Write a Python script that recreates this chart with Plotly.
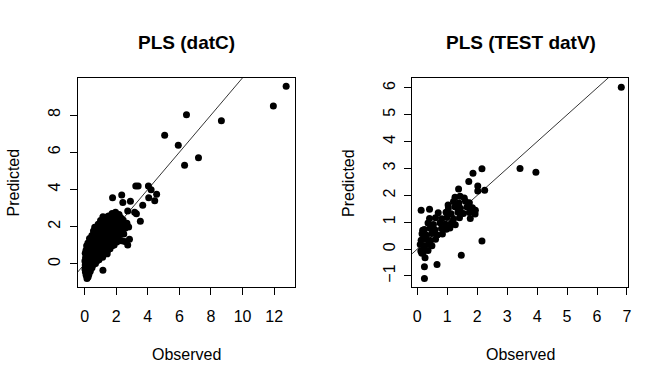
import plotly.graph_objects as go

# ---------------- data: left panel PLS (datC) ----------------
left_obs = [
    0.15, 0.22,
    0.10, 0.27,
    0.05, 0.19, 0.36,
    0.02, 0.17, 0.31, 0.47,
    0.04, 0.21, 0.37, 0.56, 0.69,
    0.02, 0.19, 0.41, 0.58, 0.79, 0.91,
    0.06, 0.23, 0.43, 0.61, 0.83, 0.99, 1.14,
    0.04, 0.26, 0.44, 0.66, 0.86, 1.06, 1.24, 1.43,
    0.09, 0.29, 0.51, 0.69, 0.91, 1.12, 1.31, 1.49, 1.61,
    0.13, 0.31, 0.53, 0.74, 0.96, 1.16, 1.34, 1.56, 1.74, 1.87,
    0.21, 0.43, 0.63, 0.84, 1.04, 1.26, 1.46, 1.64, 1.86, 2.04,
    0.31, 0.49, 0.73, 0.94, 1.16, 1.36, 1.54, 1.76, 1.94, 2.13,
    0.46, 0.67, 0.91, 1.09, 1.31, 1.49, 1.71, 1.89, 2.08, 2.26,
    0.56, 0.79, 0.99, 1.21, 1.39, 1.61, 1.79, 2.01, 2.19, 2.36,
    0.64, 0.89, 1.11, 1.29, 1.51, 1.69, 1.91, 2.09, 2.31, 2.56, 2.79,
    0.86, 1.04, 1.26, 1.44, 1.66, 1.84, 2.06, 2.24, 2.49, 2.68,
    1.01, 1.19, 1.42, 1.58, 1.81, 1.99, 2.21, 2.44,
    1.16, 1.41, 1.52, 1.71, 1.92, 2.11, 2.29,
    1.74, 1.96, 2.18,
    1.77, 2.35, 2.42, 2.90, 2.73, 3.17, 3.28, 3.53, 3.68, 4.06, 4.44, 4.56,
    4.21, 4.04, 3.24, 3.39, 2.33, 2.54, 2.84, 2.73, 2.48, 1.16,
    5.07, 5.93, 6.33, 6.45, 7.21, 8.66, 11.95, 12.76,
]
left_pred = [
    -0.78, -0.70,
    -0.61, -0.57,
    -0.44, -0.49, -0.40,
    -0.27, -0.22, -0.29, -0.20,
    -0.06, -0.01, -0.09, -0.03, 0.02,
    0.16, 0.12, 0.19, 0.11, 0.17, 0.22,
    0.33, 0.38, 0.31, 0.37, 0.32, 0.41, 0.36,
    0.57, 0.52, 0.58, 0.51, 0.56, 0.53, 0.59, 0.54,
    0.74, 0.78, 0.71, 0.77, 0.73, 0.79, 0.72, 0.76, 0.81,
    0.97, 0.92, 0.98, 0.93, 0.96, 0.91, 0.99, 0.94, 0.97, 1.02,
    1.13, 1.18, 1.12, 1.17, 1.14, 1.19, 1.11, 1.16, 1.13, 1.18,
    1.36, 1.32, 1.38, 1.33, 1.37, 1.31, 1.39, 1.34, 1.36, 1.32,
    1.53, 1.58, 1.52, 1.57, 1.54, 1.59, 1.51, 1.56, 1.53, 1.58,
    1.77, 1.72, 1.78, 1.73, 1.76, 1.71, 1.79, 1.74, 1.77, 1.72,
    1.97, 1.92, 1.98, 1.93, 1.96, 1.91, 1.99, 1.94, 1.97, 1.92, 1.98,
    2.13, 2.18, 2.12, 2.17, 2.14, 2.19, 2.11, 2.16, 2.13, 2.18,
    2.33, 2.38, 2.32, 2.37, 2.34, 2.39, 2.31, 2.36,
    2.54, 2.52, 2.58, 2.51, 2.57, 2.53, 2.48,
    2.71, 2.78, 2.66,
    3.55, 3.71, 3.30, 3.37, 2.85, 2.78, 2.69, 2.29, 3.15, 3.55, 3.39, 3.75,
    3.98, 4.19, 4.19, 4.19, 1.24, 1.20, 1.33, 1.02, 1.61, -0.34,
    6.92, 6.38, 5.30, 8.01, 5.70, 7.69, 8.49, 9.55,
]

# ---------------- data: right panel PLS (TEST datV) ----------------
right_obs = [
    0.12, 0.24, 0.36,
    0.10, 0.23, 0.37, 0.49,
    0.13, 0.27, 0.44, 0.61,
    0.16, 0.31, 0.49, 0.67, 0.84,
    0.24, 0.43, 0.59, 0.81, 0.97, 1.09,
    0.36, 0.54, 0.76, 0.94, 1.14, 1.27,
    0.82, 0.99, 1.21, 1.41,
    0.96, 1.13, 1.36, 1.54, 1.74, 1.93,
    1.04, 1.26, 1.44, 1.66, 1.84,
    1.21, 1.39, 1.61, 1.74,
    1.26, 1.43, 1.57,
    6.81, 3.43, 3.96, 2.16, 1.86, 1.72, 1.38, 2.02, 2.25, 2.02,
    2.16, 1.47, 0.66, 0.24, 0.24, 0.13, 0.41, 0.41, 0.70, 0.61,
    1.94, 1.77, 0.18, 0.15, 0.20, 0.26, 1.03,
]
right_pred = [
    -0.07, -0.02, -0.05,
    0.17, 0.12, 0.18, 0.13,
    0.33, 0.38, 0.32, 0.37,
    0.57, 0.52, 0.58, 0.53, 0.56,
    0.73, 0.78, 0.72, 0.77, 0.74, 0.79,
    0.97, 0.92, 0.98, 0.93, 0.96, 0.91,
    1.13, 1.18, 1.12, 1.17,
    1.37, 1.32, 1.38, 1.33, 1.36, 1.31,
    1.53, 1.58, 1.52, 1.57, 1.54,
    1.77, 1.72, 1.78, 1.73,
    1.93, 1.97, 1.90,
    6.03, 3.00, 2.86, 2.99, 2.82, 2.52, 2.24, 2.35, 2.19, 2.16,
    0.30, -0.23, -0.57, -0.66, -1.09, 1.45, 1.48, 1.14, 1.35, 1.17,
    1.45, 1.14, 0.70, -0.15, -0.12, -0.32, 1.64,
]

# identity reference line (abline(0, 1))
identity_line = [-2, 20]

left_xticks = [0, 2, 4, 6, 8, 10, 12]
left_yticks = [0, 2, 4, 6, 8]
right_xticks = [0, 1, 2, 3, 4, 5, 6, 7]
right_yticks = [-1, 0, 1, 2, 3, 4, 5, 6]

FONT = "Liberation Sans, Arial, sans-serif"
W, H = 672, 384

fig = go.Figure()
marker = dict(color="black", size=7, line=dict(width=0))
fig.add_trace(go.Scatter(x=left_obs, y=left_pred, mode="markers", marker=marker,
                         xaxis="x", yaxis="y", showlegend=False))
fig.add_trace(go.Scatter(x=identity_line, y=identity_line, mode="lines",
                         line=dict(color="black", width=0.8),
                         xaxis="x", yaxis="y", showlegend=False))
fig.add_trace(go.Scatter(x=right_obs, y=right_pred, mode="markers", marker=marker,
                         xaxis="x2", yaxis="y2", showlegend=False))
fig.add_trace(go.Scatter(x=identity_line, y=identity_line, mode="lines",
                         line=dict(color="black", width=0.8),
                         xaxis="x2", yaxis="y2", showlegend=False))

ydom = [1 - 287 / H, 1 - 78 / H]
common = dict(showgrid=False, zeroline=False, showline=True, mirror=True,
              linecolor="black", linewidth=1, ticks="outside", ticklen=7,
              tickwidth=1, tickcolor="black",
              tickfont=dict(family=FONT, size=16, color="black"))

fig.update_layout(
    width=W, height=H,
    margin=dict(l=0, r=0, t=0, b=0),
    paper_bgcolor="white", plot_bgcolor="white",
    xaxis=dict(domain=[78 / W, 296 / W], range=[-0.44, 13.3], tickvals=left_xticks,
               anchor="y", ticklabelstandoff=8, **common),
    yaxis=dict(domain=ydom, range=[-1.24, 9.99], tickvals=left_yticks,
               anchor="x", tickangle=-90, ticklabelstandoff=3, **common),
    xaxis2=dict(domain=[414 / W, 631 / W], range=[-0.17, 7.04], tickvals=right_xticks,
                anchor="y2", ticklabelstandoff=8, **common),
    yaxis2=dict(domain=ydom, range=[-1.41, 6.37], tickvals=right_yticks,
                anchor="x2", tickangle=-90, ticklabelstandoff=3, **common),
)

ann = []
for cx, title in [(187, "PLS (datC)"), (523, "PLS (TEST datV)")]:
    ann.append(dict(x=cx / W, y=1 - 42 / H, xref="paper", yref="paper",
                    text="<b>" + title + "</b>", showarrow=False,
                    font=dict(family=FONT, size=19, color="black"),
                    xanchor="center", yanchor="middle"))
    ann.append(dict(x=cx / W, y=1 - 354 / H, xref="paper", yref="paper",
                    text="Observed", showarrow=False,
                    font=dict(family=FONT, size=16, color="black"),
                    xanchor="center", yanchor="middle"))
for lx in [14, 350]:
    ann.append(dict(x=lx / W, y=1 - 182.5 / H, xref="paper", yref="paper",
                    text="Predicted", showarrow=False, textangle=-90,
                    font=dict(family=FONT, size=16, color="black"),
                    xanchor="center", yanchor="middle"))
fig.update_layout(annotations=ann)

fig.write_html("out.html", config={"displayModeBar": False},
               post_script="document.body.style.margin='0';")
